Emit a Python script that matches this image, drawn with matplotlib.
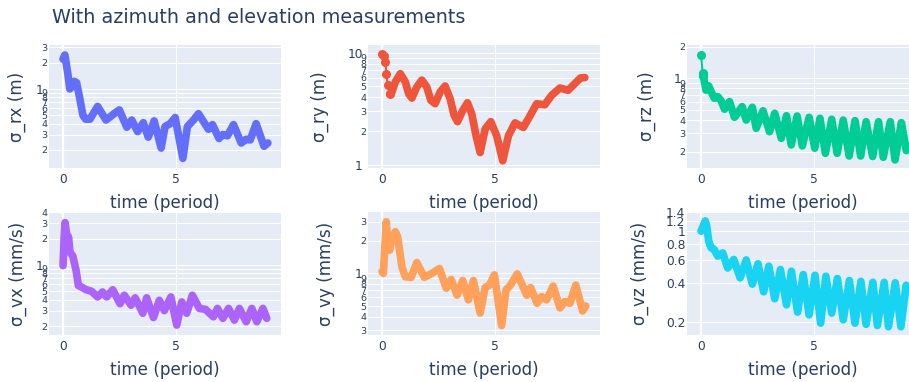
import matplotlib
matplotlib.use('Agg')
import matplotlib.pyplot as plt
from matplotlib.ticker import NullLocator
from matplotlib.transforms import ScaledTranslation

W, H = 909, 382
plt.rcParams['font.family'] = ['DejaVu Sans']

TEXT = '#2a3f5f'
BG = '#E5ECF6'

title = 'With azimuth and elevation measurements'
xlabel = 'time (period)'

# values (time in periods, log-scale y)
t_rx = [0.0, 0.08, 0.15, 0.22, 0.3, 0.38, 0.5, 0.6, 0.74, 0.88, 1.0, 1.19, 1.53, 1.9,
        2.3, 2.49, 2.82, 3.04, 3.3, 3.55, 3.77, 4.03, 4.34, 4.51, 4.74, 4.96, 5.3, 5.5,
        5.77, 5.99, 6.43, 6.61, 6.9, 7.07, 7.27, 7.54, 7.88, 8.1, 8.28, 8.54, 8.89, 9.06]
s_rx = [2.2, 2.45, 1.9, 1.45, 1.0, 1.05, 1.22, 1.18, 0.78, 0.5, 0.45, 0.45, 0.63, 0.44,
        0.53, 0.575, 0.364, 0.44, 0.324, 0.41, 0.28, 0.43, 0.21, 0.37, 0.4, 0.47, 0.16, 0.37,
        0.44, 0.52, 0.345, 0.39, 0.27, 0.3, 0.29, 0.39, 0.24, 0.265, 0.26, 0.4, 0.22, 0.24]

t_ry = [0.02, 0.08, 0.15, 0.19, 0.25, 0.34, 0.44, 0.59, 0.81, 1.03, 1.18, 1.32, 1.54, 1.76,
        1.98, 2.16, 2.35, 2.57, 2.79, 3.01, 3.19, 3.34, 3.57, 3.78, 3.97, 4.16, 4.34, 4.56,
        4.81, 5.07, 5.34, 5.59, 5.88, 6.25, 6.51, 6.84, 7.2, 7.5, 7.87, 8.23, 8.53, 8.78, 8.97]
s_ry = [9.8, 9.4, 8.3, 6.4, 5.2, 4.3, 4.47, 5.5, 6.5, 5.5, 4.3, 3.94, 4.95, 5.7,
        4.95, 3.76, 3.51, 4.47, 5.05, 3.9, 2.76, 2.43, 3.06, 3.58, 2.85, 1.82, 1.29, 2.09,
        2.43, 1.82, 1.09, 1.82, 2.37, 2.16, 2.66, 3.51, 3.44, 4.17, 4.85, 4.62, 5.31, 5.96, 6.0]

t_rz = [0.0, 0.07, 0.1, 0.16, 0.22, 0.34, 0.44, 0.59, 0.74, 0.89, 1.04, 1.26, 1.48, 1.82,
        2.0, 2.27, 2.44, 2.74, 3.03, 3.26, 3.55, 3.78, 3.99, 4.25, 4.48, 4.78, 5.03, 5.26,
        5.5, 5.78, 6.02, 6.29, 6.55, 6.81, 7.06, 7.3, 7.59, 7.85, 8.06, 8.37, 8.58, 8.86, 9.08]
s_rz = [1.68, 1.13, 1.05, 0.9, 0.77, 0.845, 0.75, 0.645, 0.668, 0.61, 0.507, 0.6, 0.425, 0.537,
        0.4, 0.53, 0.334, 0.49, 0.31, 0.464, 0.268, 0.44, 0.232, 0.437, 0.227, 0.425, 0.216, 0.416,
        0.193, 0.407, 0.193, 0.4, 0.182, 0.395, 0.182, 0.386, 0.18, 0.386, 0.177, 0.386, 0.167, 0.378, 0.205]

t_vx = [0.0, 0.05, 0.09, 0.16, 0.2, 0.24, 0.31, 0.43, 0.58, 0.68, 0.83, 1.02, 1.26, 1.53,
        1.75, 1.93, 2.2, 2.52, 2.71, 3.01, 3.19, 3.53, 3.7, 4.0, 4.26, 4.48, 4.77, 5.03,
        5.25, 5.47, 5.72, 6.03, 6.3, 6.65, 6.83, 7.07, 7.32, 7.58, 7.8, 8.1, 8.35, 8.57, 8.84, 9.01]
s_vx = [0.98, 2.05, 3.04, 2.24, 1.58, 2.1, 1.39, 1.27, 0.86, 0.58, 0.557, 0.52, 0.5, 0.43,
        0.49, 0.43, 0.52, 0.36, 0.45, 0.346, 0.42, 0.28, 0.42, 0.25, 0.394, 0.3, 0.43, 0.205,
        0.377, 0.28, 0.45, 0.318, 0.31, 0.255, 0.318, 0.245, 0.318, 0.234, 0.318, 0.224, 0.318, 0.224, 0.318, 0.245]

t_vy = [0.0, 0.06, 0.19, 0.26, 0.34, 0.41, 0.59, 0.69, 0.88, 1.03, 1.29, 1.54, 1.87, 2.2,
        2.54, 2.84, 3.06, 3.32, 3.57, 3.82, 4.04, 4.34, 4.56, 4.75, 4.97, 5.29, 5.48, 5.68,
        5.98, 6.4, 6.57, 6.86, 7.06, 7.28, 7.57, 7.87, 8.09, 8.31, 8.57, 8.87, 9.01]
s_vy = [1.04, 1.0, 3.0, 1.76, 1.64, 2.03, 2.43, 2.18, 1.15, 0.93, 0.92, 1.26, 0.92, 1.0,
        1.11, 0.73, 0.88, 0.63, 0.86, 0.57, 0.86, 0.43, 0.74, 0.78, 0.97, 0.33, 0.7, 0.78,
        0.99, 0.63, 0.74, 0.53, 0.61, 0.57, 0.765, 0.48, 0.55, 0.53, 0.78, 0.45, 0.5]

t_vz = [0.0, 0.1, 0.19, 0.25, 0.34, 0.44, 0.59, 0.74, 0.96, 1.18, 1.45, 1.73, 2.0, 2.27,
        2.52, 2.77, 3.0, 3.26, 3.51, 3.78, 4.0, 4.27, 4.52, 4.78, 5.04, 5.29, 5.52, 5.78,
        6.03, 6.29, 6.56, 6.81, 7.07, 7.3, 7.6, 7.8, 8.1, 8.29, 8.59, 8.84, 9.07]
s_vz = [1.0, 1.1, 1.2, 1.1, 0.84, 0.746, 0.72, 0.642, 0.68, 0.52, 0.605, 0.436, 0.6, 0.39,
        0.56, 0.34, 0.537, 0.301, 0.506, 0.27, 0.491, 0.237, 0.463, 0.226, 0.457, 0.195, 0.449, 0.233,
        0.431, 0.207, 0.416, 0.195, 0.41, 0.191, 0.403, 0.187, 0.403, 0.183, 0.4, 0.183, 0.382]

decade = [0.9, 0.8, 0.7, 0.6, 0.5, 0.4, 0.3, 0.2]
digits = ['9', '8', '7', '6', '5', '4', '3', '2']

# name, t, sigma, colour, ylim, yticks, ticklabels, big labels, sparse head points
panels = [
    ('σ_rx (m)', t_rx, s_rx, '#636efa', (0.124, 3.19),
     [3, 2, 1] + decade, ['3', '2', '1'] + digits, ['1'], 0),
    ('σ_ry (m)', t_ry, s_ry, '#EF553B', (0.94, 11.7),
     [10, 9, 8, 7, 6, 5, 4, 3, 2, 1], ['10', '9', '8', '7', '6', '5', '4', '3', '2', '1'], ['10', '1'], 6),
    ('σ_rz (m)', t_rz, s_rz, '#00cc96', (0.14, 2.07),
     [2, 1] + decade, ['2', '1'] + digits, ['1'], 3),
    ('σ_vx (mm/s)', t_vx, s_vx, '#ab63fa', (0.158, 4.02),
     [4, 3, 2, 1] + decade, ['4', '3', '2', '1'] + digits, ['1'], 0),
    ('σ_vy (mm/s)', t_vy, s_vy, '#FFA15A', (0.27, 3.69),
     [3, 2, 1] + decade[:-1], ['3', '2', '1'] + digits[:-1], ['1'], 0),
    ('σ_vz (mm/s)', t_vz, s_vz, '#19d3f3', (0.158, 1.406),
     [1.4, 1.2, 1, 0.8, 0.6, 0.4, 0.2], ['1.4', '1.2', '1', '0.8', '0.6', '0.4', '0.2'], None, 0),
]

# pixel boxes of the subplots (left, top, right, bottom) and y-title centres
boxes = [(49, 45, 281, 168), (368, 45, 600, 168), (687, 45, 919, 168),
         (49, 212, 281, 335), (368, 212, 600, 335), (687, 212, 919, 335)]
ytitle_x = [16.5, 320, 647, 17.5, 325.5, 639.5]

fig = plt.figure(figsize=(W / 100, H / 100), dpi=100)
fig.patch.set_facecolor('white')


def fx(px):
    return px / W


def fy(py):
    return 1 - py / H


for i, (name, t, s, col, ylim, yt, ylab, big, nhead) in enumerate(panels):
    l, tp, r, b = boxes[i]
    ax = fig.add_axes([fx(l), fy(b), (r - l) / W, (b - tp) / H])
    ax.set_facecolor(BG)
    for sp in ax.spines.values():
        sp.set_visible(False)
    ax.set_yscale('log')
    ax.set_xlim(-0.62, 9.64)
    ax.set_ylim(*ylim)
    ax.set_xticks([0, 5])
    ax.set_yticks(yt)
    ax.set_yticklabels(ylab)
    ax.yaxis.set_minor_locator(NullLocator())
    ax.grid(True, color='white', lw=0.75)
    ax.axvline(0, color='white', lw=1.6, zorder=1)
    ax.set_axisbelow(True)
    ax.tick_params(length=0, colors=TEXT, labelsize=8.8)
    ax.tick_params(axis='x', pad=3.5)
    ax.tick_params(axis='y', pad=1.2)
    for lab in ax.get_yticklabels():
        if big is not None and lab.get_text() not in big:
            lab.set_fontsize(6.8)
        elif big is not None:
            lab.set_transform(lab.get_transform() + ScaledTranslation(-0.035, 0, fig.dpi_scale_trans))

    if nhead:
        ax.plot(t[:nhead], s[:nhead], color=col, lw=1.5, marker='o', ms=5.5, zorder=3)
    ax.plot(t[max(nhead - 1, 0):], s[max(nhead - 1, 0):], color=col, lw=5.5,
            solid_capstyle='round', solid_joinstyle='round', zorder=3)

    fig.text(fx(ytitle_x[i]), fy((tp + b) / 2), name, rotation=90, ha='center', va='center',
             fontsize=12.1, color=TEXT)
    fig.text(fx((l + r) / 2), fy(b + 35), xlabel, ha='center', va='center',
             fontsize=12.1, color=TEXT)

fig.text(fx(52), fy(22.7), title, ha='left', va='baseline', fontsize=13.8, color=TEXT)

fig.savefig('out.png', dpi=100, facecolor='white')
